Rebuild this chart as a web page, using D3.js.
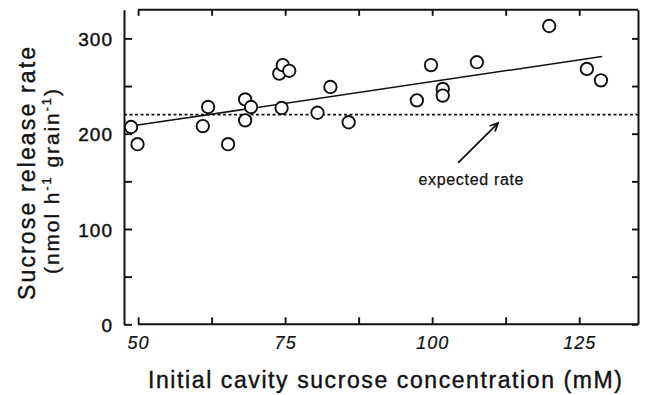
<!DOCTYPE html>
<html><head><meta charset="utf-8">
<script src="https://cdn.jsdelivr.net/npm/d3@7/dist/d3.min.js"></script>
<style>body{margin:0;background:#fff}</style>
</head><body><svg id="c" width="645" height="395"></svg>
<script>
// ---- data ----
const concentration = [48.8, 49.9, 61.0, 61.9, 65.3, 68.2, 68.2, 69.2, 74.0, 74.6, 75.7, 74.4, 80.5, 82.7, 85.8, 97.4, 99.8, 101.8, 101.8, 107.6, 119.9, 126.3, 128.7];
const releaseRate   = [207, 189, 208, 228, 189, 236, 214, 228, 263, 272, 266, 227, 222, 249, 212, 235, 272, 247, 240, 275, 313, 268, 256];
const fitX = [48.8, 128.9];
const fitY = [208, 281];
const expectedRate = 220;
const xTicks = [50, 62.5, 75, 87.5, 100, 112.5, 125];
const xTickLabels = [50, 75, 100, 125];
const yTicks = [0, 50, 100, 150, 200, 250, 300];
const yTickLabels = [0, 100, 200, 300];
const xTitle = "Initial cavity sucrose concentration (mM)";
const yTitle1 = "Sucrose release rate";
const annotation = "expected rate";
const annotationAt = [106.6, 146.5];
const arrowFrom = [104.4, 169.3];
const arrowTo = [111.2, 211.2];
const xDomain = [47.6, 135];
const yDomain = [0, 330];

// ---- drawing ----
const svg = d3.select("#c");
const x = d3.scaleLinear().domain(xDomain).range([124, 638]);
const y = d3.scaleLinear().domain(yDomain).range([324.3, 9.8]);
const font = "'Liberation Sans', Arial, Helvetica, sans-serif";
const ink = "#111";

function heavy(sel, w) {
  sel.attr("stroke", ink).attr("stroke-width", w).attr("paint-order", "stroke");
}
function styleAxis(g, size, italic) {
  g.selectAll("line").attr("stroke", ink).attr("stroke-width", 1.9);
  g.selectAll("path").attr("stroke", ink).attr("stroke-width", 2);
  const t = g.selectAll("text").attr("fill", ink).attr("font-family", font)
    .attr("font-size", size).attr("font-style", italic ? "italic" : "normal")
    .attr("letter-spacing", 1);
  heavy(t, italic ? 0.2 : 0.45);
}
const fmtY = d => yTickLabels.includes(d) ? d : "";
const fmtX = d => xTickLabels.includes(d) ? d : "";

// left axis
const gl = svg.append("g").attr("transform", `translate(${x(xDomain[0])},0)`)
  .call(d3.axisLeft(y).tickValues(yTicks).tickSize(-8).tickSizeOuter(0).tickPadding(11).tickFormat(fmtY));
styleAxis(gl, 19, false);
gl.selectAll("text").attr("dy", "0.38em");
// right axis
const gr = svg.append("g").attr("transform", `translate(${x(xDomain[1])},0)`)
  .call(d3.axisRight(y).tickValues(yTicks).tickSize(-6).tickSizeOuter(0).tickFormat(() => ""));
styleAxis(gr, 18, false);
// bottom axis
const gb = svg.append("g").attr("transform", `translate(0,${y(yDomain[0])})`)
  .call(d3.axisBottom(x).tickValues(xTicks).tickSize(-7).tickSizeOuter(0).tickPadding(12).tickFormat(fmtX));
gb.select(".domain").remove();
gb.append("line").attr("x1", x(xTicks[0])).attr("x2", x(xDomain[1]));
styleAxis(gb, 18, true);
// top axis
const gt = svg.append("g").attr("transform", `translate(0,${y(yDomain[1])})`)
  .call(d3.axisTop(x).tickValues(xTicks).tickSize(-6).tickSizeOuter(0).tickFormat(() => ""));
gt.select(".domain").remove();
gt.append("line").attr("x1", x(xTicks[0])).attr("x2", x(xDomain[1]));
styleAxis(gt, 17, false);

// expected rate (dotted)
svg.append("line")
  .attr("x1", x(xDomain[0])).attr("x2", x(xDomain[1]))
  .attr("y1", y(expectedRate)).attr("y2", y(expectedRate))
  .attr("stroke", ink).attr("stroke-width", 1.6).attr("stroke-dasharray", "3,2.5");

// regression line
svg.append("path")
  .datum(fitX.map((v, i) => [v, fitY[i]]))
  .attr("d", d3.line().x(d => x(d[0])).y(d => y(d[1])))
  .attr("fill", "none").attr("stroke", ink).attr("stroke-width", 1.5);

// points
svg.append("g").selectAll("circle")
  .data(concentration.map((v, i) => [v, releaseRate[i]]))
  .join("circle")
  .attr("cx", d => x(d[0])).attr("cy", d => y(d[1])).attr("r", 6.2)
  .attr("fill", "#fff").attr("stroke", ink).attr("stroke-width", 1.9);

// annotation arrow
const ax1 = x(arrowFrom[0]), ay1 = y(arrowFrom[1]), ax2 = x(arrowTo[0]), ay2 = y(arrowTo[1]);
const ang = Math.atan2(ay2 - ay1, ax2 - ax1);
const hl = 9, ha = 0.45;
svg.append("line").attr("x1", ax1).attr("y1", ay1).attr("x2", ax2).attr("y2", ay2)
  .attr("stroke", ink).attr("stroke-width", 1.8);
svg.append("path")
  .attr("d", `M${ax2 - hl * Math.cos(ang - ha)},${ay2 - hl * Math.sin(ang - ha)} L${ax2},${ay2} L${ax2 - hl * Math.cos(ang + ha)},${ay2 - hl * Math.sin(ang + ha)}`)
  .attr("fill", "none").attr("stroke", ink).attr("stroke-width", 1.8);
heavy(svg.append("text")
  .attr("x", x(annotationAt[0])).attr("y", y(annotationAt[1]))
  .attr("text-anchor", "middle").attr("font-family", font).attr("font-size", 16)
  .attr("fill", ink).attr("textLength", 105).attr("lengthAdjust", "spacing")
  .text(annotation), 0.25);

// x title
heavy(svg.append("text")
  .attr("x", 385).attr("y", 388).attr("text-anchor", "middle")
  .attr("font-family", font).attr("font-size", 23).attr("fill", ink)
  .attr("textLength", 474).attr("lengthAdjust", "spacing")
  .text(xTitle), 0.4);

// y title line 1
heavy(svg.append("text")
  .attr("transform", "translate(35,173.5) rotate(-90)")
  .attr("text-anchor", "middle").attr("font-family", font).attr("font-size", 23).attr("fill", ink)
  .attr("textLength", 253).attr("lengthAdjust", "spacing")
  .text(yTitle1), 0.4);

// y title line 2 with superscripts
const t2 = svg.append("text")
  .attr("transform", "translate(59,274) rotate(-90)")
  .attr("text-anchor", "start").attr("font-family", font).attr("font-size", 21).attr("fill", ink)
  .attr("letter-spacing", 1.9);
heavy(t2, 0.35);
t2.append("tspan").text("(nmol h");
t2.append("tspan").attr("dy", -8).attr("font-size", 13).text("-1");
t2.append("tspan").attr("dy", 8).text(" grain");
t2.append("tspan").attr("dy", -8).attr("font-size", 13).text("-1");
t2.append("tspan").attr("dy", 8).text(")");
</script></body></html>
